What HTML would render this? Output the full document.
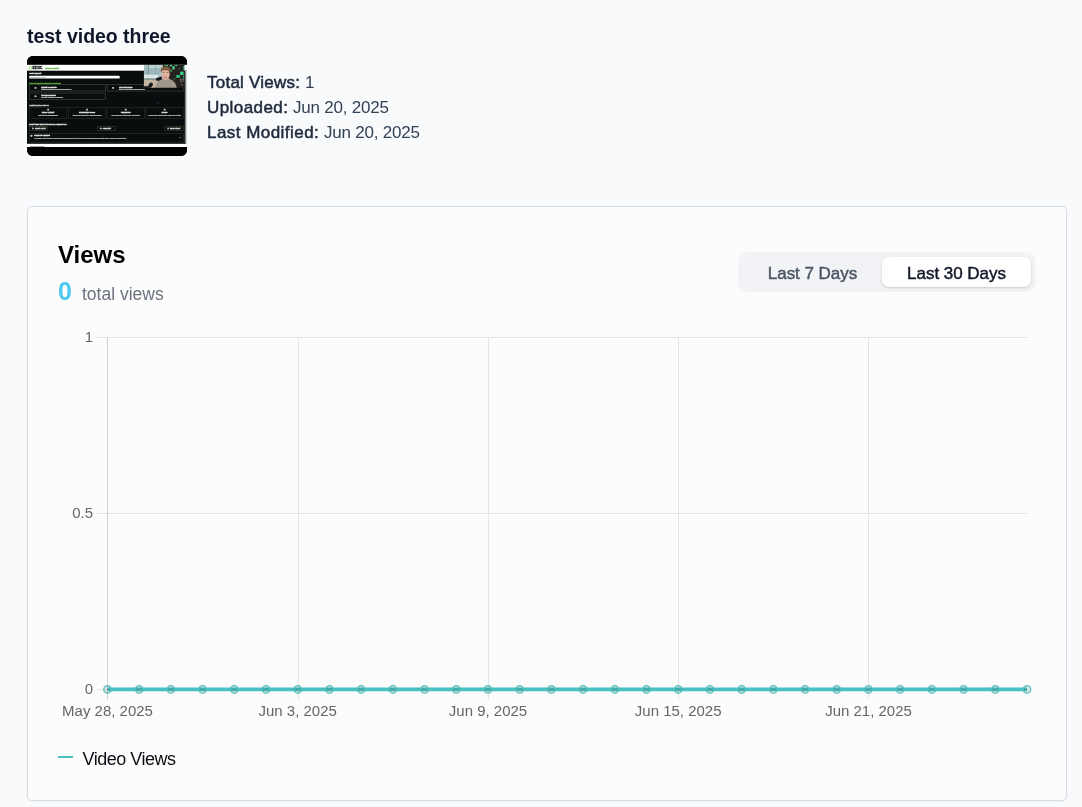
<!DOCTYPE html>
<html lang="en">
<head>
<meta charset="utf-8">
<title>test video three</title>
<style>
  html, body { margin: 0; padding: 0; }
  body {
    width: 1082px; height: 807px; overflow: hidden; position: relative;
    background: #f8fafc;
    font-family: "Liberation Sans", sans-serif;
    color: #1e293b;
  }
  .abs { position: absolute; white-space: nowrap; }
  #title {
    left: 27px; top: 24px; font-size: 19.5px; line-height: 24px; font-weight: 700;
    color: #0f172a; letter-spacing: -0.03px;
  }
  #thumb { left: 27px; top: 56px; width: 160px; height: 100px; border-radius: 6px; overflow: hidden; background: #000; }
  .stat { left: 207px; font-size: 17px; line-height: 25px; color: #334155; }
  .stat b { font-weight: 400; color: #1e293b; -webkit-text-stroke: 0.5px #1e293b; }
  .stat span { position: absolute; top: 0; letter-spacing: -0.22px; }
  #card {
    left: 27px; top: 206px; width: 1038px; height: 593px;
    border: 1px solid #d7dce4; border-radius: 5px; background: #fcfcfc;
    box-shadow: 0 1px 2px rgba(0,0,0,0.05);
  }
  #h-views { left: 58px; top: 240px; font-size: 24px; line-height: 30px; font-weight: 700; color: #000; }
  #n-views { left: 58px; top: 276px; font-size: 25px; line-height: 30px; font-weight: 700; color: #4cc9f0; }
  #t-views { left: 82px; top: 282px; font-size: 17.5px; line-height: 24px; color: #6b7280; }
  #toggle { left: 738px; top: 252px; width: 298px; height: 40px; border-radius: 10px; background: #f1f3f6; }
  #pill { left: 882px; top: 257px; width: 149px; height: 30px; border-radius: 7px; background: #fff;
    box-shadow: 0 1px 3px rgba(0,0,0,0.12), 0 1px 2px rgba(0,0,0,0.06); }
  .tbtn { top: 258px; height: 30px; line-height: 31px; font-size: 17px; font-weight: 400; text-align: center; letter-spacing: -0.03px; -webkit-text-stroke: 0.45px currentColor; }
  #b7 { left: 743px; width: 139px; color: #4b5563; }
  #b30 { left: 882px; width: 149px; color: #111827; }
  #chart { left: 0; top: 0; width: 1082px; height: 807px; }
  #thumb text { font-family: "Liberation Sans", sans-serif; }
  #chart text { font-family: "Liberation Sans", sans-serif; font-size: 15px; fill: #666; }
  #legend { left: 82.6px; top: 747px; font-size: 18px; line-height: 24px; color: #0a0d14; letter-spacing: -0.5px; }
  #legend-dash { left: 58px; top: 756px; width: 15px; height: 2px; background: #4bc0c0; }
</style>
</head>
<body>
  <div id="title" class="abs">test video three</div>

  <div id="thumb" class="abs"><!--THUMB--><svg width="160" height="100" viewBox="27 56 160 100" style="display:block"><defs><filter id="bl" color-interpolation-filters="sRGB" x="-5%" y="-5%" width="110%" height="110%"><feGaussianBlur stdDeviation="0.35"/></filter><filter id="bl2" color-interpolation-filters="sRGB" x="-10%" y="-10%" width="120%" height="120%"><feGaussianBlur stdDeviation="0.6"/></filter><clipPath id="cam"><rect x="143.9" y="64.9" width="40.6" height="22.8"/></clipPath><linearGradient id="strip" x1="0" x2="1" y1="0" y2="0"><stop offset="0" stop-color="#3a3f3f"/><stop offset="0.45" stop-color="#8f9595"/><stop offset="1" stop-color="#f2f4f4"/></linearGradient></defs><rect x="27" y="56" width="160" height="100" fill="#000"/><g filter="url(#bl)"><rect x="27" y="70.7" width="158.5" height="73.2" fill="#080d0d"/><rect x="27" y="64.8" width="160" height="5.9" fill="#fff"/><rect x="27" y="143.8" width="160" height="3.2" fill="#fff"/><text x="30" y="146.6" font-size="1.4" font-weight="400" fill="#8a8f99" stroke="#8a8f99" stroke-width="0.22" text-anchor="start">support.ezoic.com/help</text><circle cx="30.6" cy="67.9" r="1.5" fill="none" stroke="#7ac943" stroke-width="0.7"/><text x="32.4" y="69.1" font-size="3.3" font-weight="700" fill="#1c241f" stroke="#1c241f" stroke-width="0.32" text-anchor="start">EZOIC</text><text x="45" y="68.9" font-size="2.5" font-weight="700" fill="#5fb53c" stroke="#5fb53c" stroke-width="0.32" text-anchor="start">Help Center</text><text x="29.2" y="74.3" font-size="2.1" font-weight="700" fill="#dfe3e3" stroke="#dfe3e3" stroke-width="0.32" text-anchor="start">Get Support</text><rect x="29.2" y="75.7" width="90.6" height="2.9" rx="1.2" fill="#fff"/><text x="30" y="77.8" font-size="1.5" font-weight="400" fill="#b8bdbd" stroke="#b8bdbd" stroke-width="0.22" text-anchor="start">Search for help articles</text><text x="29.2" y="83.6" font-size="1.92" font-weight="700" fill="#58a832" stroke="#58a832" stroke-width="0.32" text-anchor="start">Your Dedicated Support Resources</text><rect x="29.55" y="84.65" width="76.00" height="6.40" fill="none" stroke="#474d4d" stroke-width="0.6"/><rect x="107.15" y="84.65" width="76.10" height="6.40" fill="none" stroke="#474d4d" stroke-width="0.6"/><rect x="29.55" y="93.05" width="76.00" height="6.40" fill="none" stroke="#474d4d" stroke-width="0.6"/><rect x="34.5" y="87.10000000000001" width="2" height="1.6" fill="#c8cccc"/><text x="41.3" y="87.80000000000001" font-size="2.0" font-weight="700" fill="#e3e6e6" stroke="#e3e6e6" stroke-width="0.32" text-anchor="start">Expert Contacts</text><text x="41.3" y="89.9" font-size="1.35" font-weight="400" fill="#bfc4c4" stroke="#bfc4c4" stroke-width="0.22" text-anchor="start">Connect directly with your dedicated account team</text><rect x="112.10000000000001" y="87.10000000000001" width="2" height="1.6" fill="#c8cccc"/><text x="118.9" y="87.80000000000001" font-size="2.0" font-weight="700" fill="#e3e6e6" stroke="#e3e6e6" stroke-width="0.32" text-anchor="start">Live Webinars</text><text x="118.9" y="89.9" font-size="1.35" font-weight="400" fill="#bfc4c4" stroke="#bfc4c4" stroke-width="0.22" text-anchor="start">Register for our upcoming training sessions</text><rect x="34.5" y="95.5" width="2" height="1.6" fill="#c8cccc"/><text x="41.3" y="96.2" font-size="2.0" font-weight="700" fill="#e3e6e6" stroke="#e3e6e6" stroke-width="0.32" text-anchor="start">Troubleshooter</text><text x="41.3" y="98.3" font-size="1.35" font-weight="400" fill="#bfc4c4" stroke="#bfc4c4" stroke-width="0.22" text-anchor="start">Quick self-diagnosis for page issues</text><text x="29.2" y="105.7" font-size="1.92" font-weight="700" fill="#cdd1d1" stroke="#cdd1d1" stroke-width="0.32" text-anchor="start">Additional Resources</text><rect x="29.55" y="107.35" width="37.10" height="11.10" fill="none" stroke="#2b3322" stroke-width="0.6"/><rect x="47.2" y="108.8" width="1.8" height="1.7" fill="#cdd2d2"/><text x="48.1" y="113.4" font-size="2.0" font-weight="700" fill="#e3e6e6" stroke="#e3e6e6" stroke-width="0.32" text-anchor="middle">Video Library</text><text x="48.1" y="115.7" font-size="1.35" font-weight="400" fill="#b9bebe" stroke="#b9bebe" stroke-width="0.22" text-anchor="middle">Watch tutorials and walkthroughs</text><rect x="68.35" y="107.35" width="37.30" height="11.10" fill="none" stroke="#2b3322" stroke-width="0.6"/><rect x="86.1" y="108.8" width="1.8" height="1.7" fill="#cdd2d2"/><text x="87.0" y="113.4" font-size="2.0" font-weight="700" fill="#e3e6e6" stroke="#e3e6e6" stroke-width="0.32" text-anchor="middle">Knowledge Base</text><text x="87.0" y="115.7" font-size="1.35" font-weight="400" fill="#b9bebe" stroke="#b9bebe" stroke-width="0.22" text-anchor="middle">Browse help documentation and detailed guides</text><rect x="107.15" y="107.35" width="37.20" height="11.10" fill="none" stroke="#2b3322" stroke-width="0.6"/><rect x="124.85" y="108.8" width="1.8" height="1.7" fill="#cdd2d2"/><text x="125.75" y="113.4" font-size="2.0" font-weight="700" fill="#e3e6e6" stroke="#e3e6e6" stroke-width="0.32" text-anchor="middle">Templates</text><text x="125.75" y="115.7" font-size="1.35" font-weight="400" fill="#b9bebe" stroke="#b9bebe" stroke-width="0.22" text-anchor="middle">Ready-made ad layout templates and best sites</text><rect x="146.05" y="107.35" width="37.20" height="11.10" fill="none" stroke="#2b3322" stroke-width="0.6"/><rect x="163.75" y="108.8" width="1.8" height="1.7" fill="#cdd2d2"/><text x="164.65" y="113.4" font-size="2.0" font-weight="700" fill="#e3e6e6" stroke="#e3e6e6" stroke-width="0.32" text-anchor="middle">Blogs</text><text x="164.65" y="115.7" font-size="1.35" font-weight="400" fill="#b9bebe" stroke="#b9bebe" stroke-width="0.22" text-anchor="middle">Industry news, product updates and tips from our team</text><text x="29.2" y="124.7" font-size="1.95" font-weight="700" fill="#dde1e1" stroke="#dde1e1" stroke-width="0.32" text-anchor="start">Didn't Find What You Were Looking For?</text><rect x="29.55" y="126.45" width="18.00" height="3.90" fill="none" stroke="#37452a" stroke-width="0.6"/><rect x="32.1" y="127.6" width="1.6" height="1.6" fill="#d0d5d5"/><text x="34.9" y="128.9" font-size="1.5" font-weight="700" fill="#d5d9d9" stroke="#d5d9d9" stroke-width="0.32" text-anchor="start">Submit a ticket</text><rect x="97.45" y="126.45" width="18.00" height="3.90" fill="none" stroke="#37452a" stroke-width="0.6"/><rect x="100.0" y="127.6" width="1.6" height="1.6" fill="#d0d5d5"/><text x="102.8" y="128.9" font-size="1.5" font-weight="700" fill="#d5d9d9" stroke="#d5d9d9" stroke-width="0.32" text-anchor="start">Community</text><rect x="164.75" y="126.45" width="18.50" height="3.90" fill="none" stroke="#37452a" stroke-width="0.6"/><rect x="167.3" y="127.6" width="1.6" height="1.6" fill="#d0d5d5"/><text x="170.1" y="128.9" font-size="1.5" font-weight="700" fill="#d5d9d9" stroke="#d5d9d9" stroke-width="0.32" text-anchor="start">Email Support</text><rect x="29.55" y="133.45" width="153.70" height="8.70" fill="none" stroke="#2c3636" stroke-width="0.6"/><circle cx="31.5" cy="135.8" r="1.1" fill="#d0d5d5"/><text x="34.2" y="136.3" font-size="2.0" font-weight="700" fill="#e3e6e6" stroke="#e3e6e6" stroke-width="0.32" text-anchor="start">Support Chatbot</text><text x="34.2" y="138.8" font-size="1.35" font-weight="400" fill="#b5baba" stroke="#b5baba" stroke-width="0.22" text-anchor="start">Our chatbot assistant knows the answers to most questions about our site and can walk you through setup or connect you to a person on our support team</text><rect x="179.6" y="137" width="1.2" height="0.8" fill="#9aa"/><rect x="157.6" y="102.4" width="0.9" height="1.3" fill="#556"/></g><g clip-path="url(#cam)"><g filter="url(#bl2)"><rect x="142" y="63" width="46" height="27" fill="#26221f"/><rect x="142" y="63" width="21" height="18" fill="#a8c2c3"/><rect x="149" y="63" width="12" height="5" fill="#b9d3d3"/><rect x="144" y="68" width="16" height="6" fill="#9db8ba"/><rect x="147.8" y="63" width="1.1" height="16" fill="#7f9898"/><rect x="155.2" y="66" width="0.9" height="10" fill="#8ea8a8"/><rect x="142" y="74.8" width="16" height="3.6" fill="#dbe5e6"/><rect x="142" y="78.4" width="16" height="1.6" fill="#8a9490"/><rect x="142" y="80" width="16" height="10" fill="#c4b69e"/><path d="M155.8 80.5 L156.4 78 L161.8 76.6 L162 81 Z" fill="#15151a"/><rect x="164.2" y="64.6" width="2.4" height="1.4" fill="#2c9a5a"/><rect x="166.4" y="65" width="1.6" height="1.2" fill="#45c783"/><rect x="169.6" y="64.8" width="2.4" height="1.6" fill="#49cf8a"/><rect x="172.4" y="66.2" width="2.2" height="3.2" fill="#52d994"/><rect x="175.2" y="64.8" width="2.2" height="1.3" fill="#43c680"/><rect x="170.2" y="69.6" width="2" height="2.2" fill="#2f8f58"/><rect x="180.2" y="71.6" width="3.4" height="3.4" fill="#3fd28a"/><rect x="176.2" y="75" width="3.8" height="2.8" fill="#33b873"/><rect x="183.4" y="66" width="1.4" height="4" fill="#3cc47c"/><rect x="183.2" y="75.4" width="1.4" height="3.6" fill="#2fa565"/><rect x="173.4" y="78" width="2" height="1.4" fill="#256a42"/><rect x="178" y="68" width="2" height="2" fill="#3a3430"/><rect x="180.2" y="79.2" width="3" height="2" fill="none" stroke="#8a8e8e" stroke-width="0.6"/><path d="M181.2 83.4 L182.8 85.8" stroke="#7d8282" stroke-width="0.7"/><ellipse cx="150.6" cy="85.2" rx="1.9" ry="2.8" fill="#191922" transform="rotate(40 150.6 85.2)"/><rect x="144" y="86.2" width="5.5" height="2" fill="#1c1c22"/><path d="M155 89 C155.2 84 157.6 80.8 162.2 79.2 L169.6 79 C174.2 80.6 176.4 84 176.9 89 Z" fill="#9f978b"/><path d="M162.4 79.3 C164.5 80.8 167.5 80.8 169.4 79.2 L169 78 L163 78 Z" fill="#b8a595"/><ellipse cx="165.6" cy="74.2" rx="4.1" ry="5.2" fill="#dfb29d"/><ellipse cx="165.4" cy="77.4" rx="2" ry="1.1" fill="#c98d80"/><path d="M160.9 72.6 C160 67.6 162.6 66.3 165.6 66.4 C168.8 66.3 171 67.8 170.1 72.8 C169.6 70.6 168.2 70.1 165.6 70.2 C163.2 70.1 161.6 70.6 160.9 72.6 Z" fill="#7d5c3c"/><rect x="162.6" y="72.2" width="2" height="0.8" fill="#8a6458"/><rect x="166.4" y="72.2" width="2" height="0.8" fill="#8a6458"/></g></g><rect x="184.6" y="70.7" width="2.4" height="73.2" fill="url(#strip)"/></svg><!--/THUMB--></div>

  <div class="abs stat" style="top:70px"><b style="letter-spacing:0.24px">Total Views:</b> <span style="left:98px">1</span></div>
  <div class="abs stat" style="top:95px"><b style="letter-spacing:0.42px">Uploaded:</b> <span style="left:86px">Jun 20, 2025</span></div>
  <div class="abs stat" style="top:120px"><b style="letter-spacing:0.46px">Last Modified:</b> <span style="left:117px">Jun 20, 2025</span></div>

  <div id="card" class="abs"></div>
  <div id="h-views" class="abs">Views</div>
  <div id="n-views" class="abs">0</div>
  <div id="t-views" class="abs">total views</div>

  <div id="toggle" class="abs"></div>
  <div id="pill" class="abs"></div>
  <div id="b7" class="abs tbtn">Last 7 Days</div>
  <div id="b30" class="abs tbtn">Last 30 Days</div>

  <svg id="chart" class="abs" viewBox="0 0 1082 807"><!--CHART-->
    <line x1="97" y1="337.5" x2="1027.0" y2="337.5" stroke="#e4e4e4" stroke-width="1"/>
    <line x1="97" y1="513.5" x2="1027.0" y2="513.5" stroke="#e4e4e4" stroke-width="1"/>
    <line x1="97" y1="689.5" x2="1027.0" y2="689.5" stroke="#e4e4e4" stroke-width="1"/>
    <line x1="107.5" y1="337.5" x2="107.5" y2="699.5" stroke="#cfcfcf" stroke-width="1"/>
    <line x1="298.5" y1="337.5" x2="298.5" y2="699.5" stroke="#e4e4e4" stroke-width="1"/>
    <line x1="488.5" y1="337.5" x2="488.5" y2="699.5" stroke="#e4e4e4" stroke-width="1"/>
    <line x1="678.5" y1="337.5" x2="678.5" y2="699.5" stroke="#e4e4e4" stroke-width="1"/>
    <line x1="868.5" y1="337.5" x2="868.5" y2="699.5" stroke="#e4e4e4" stroke-width="1"/>
    <line x1="107.5" y1="689.4" x2="1027.0" y2="689.4" stroke="#4bc0c0" stroke-width="3.75"/>
    <circle cx="107.50" cy="689.4" r="3.75" fill="rgba(0,0,0,0.1)" stroke="#4bc0c0" stroke-width="1.25"/>
    <circle cx="139.21" cy="689.4" r="3.75" fill="rgba(0,0,0,0.1)" stroke="#4bc0c0" stroke-width="1.25"/>
    <circle cx="170.91" cy="689.4" r="3.75" fill="rgba(0,0,0,0.1)" stroke="#4bc0c0" stroke-width="1.25"/>
    <circle cx="202.62" cy="689.4" r="3.75" fill="rgba(0,0,0,0.1)" stroke="#4bc0c0" stroke-width="1.25"/>
    <circle cx="234.33" cy="689.4" r="3.75" fill="rgba(0,0,0,0.1)" stroke="#4bc0c0" stroke-width="1.25"/>
    <circle cx="266.03" cy="689.4" r="3.75" fill="rgba(0,0,0,0.1)" stroke="#4bc0c0" stroke-width="1.25"/>
    <circle cx="297.74" cy="689.4" r="3.75" fill="rgba(0,0,0,0.1)" stroke="#4bc0c0" stroke-width="1.25"/>
    <circle cx="329.45" cy="689.4" r="3.75" fill="rgba(0,0,0,0.1)" stroke="#4bc0c0" stroke-width="1.25"/>
    <circle cx="361.16" cy="689.4" r="3.75" fill="rgba(0,0,0,0.1)" stroke="#4bc0c0" stroke-width="1.25"/>
    <circle cx="392.86" cy="689.4" r="3.75" fill="rgba(0,0,0,0.1)" stroke="#4bc0c0" stroke-width="1.25"/>
    <circle cx="424.57" cy="689.4" r="3.75" fill="rgba(0,0,0,0.1)" stroke="#4bc0c0" stroke-width="1.25"/>
    <circle cx="456.28" cy="689.4" r="3.75" fill="rgba(0,0,0,0.1)" stroke="#4bc0c0" stroke-width="1.25"/>
    <circle cx="487.98" cy="689.4" r="3.75" fill="rgba(0,0,0,0.1)" stroke="#4bc0c0" stroke-width="1.25"/>
    <circle cx="519.69" cy="689.4" r="3.75" fill="rgba(0,0,0,0.1)" stroke="#4bc0c0" stroke-width="1.25"/>
    <circle cx="551.40" cy="689.4" r="3.75" fill="rgba(0,0,0,0.1)" stroke="#4bc0c0" stroke-width="1.25"/>
    <circle cx="583.10" cy="689.4" r="3.75" fill="rgba(0,0,0,0.1)" stroke="#4bc0c0" stroke-width="1.25"/>
    <circle cx="614.81" cy="689.4" r="3.75" fill="rgba(0,0,0,0.1)" stroke="#4bc0c0" stroke-width="1.25"/>
    <circle cx="646.52" cy="689.4" r="3.75" fill="rgba(0,0,0,0.1)" stroke="#4bc0c0" stroke-width="1.25"/>
    <circle cx="678.22" cy="689.4" r="3.75" fill="rgba(0,0,0,0.1)" stroke="#4bc0c0" stroke-width="1.25"/>
    <circle cx="709.93" cy="689.4" r="3.75" fill="rgba(0,0,0,0.1)" stroke="#4bc0c0" stroke-width="1.25"/>
    <circle cx="741.64" cy="689.4" r="3.75" fill="rgba(0,0,0,0.1)" stroke="#4bc0c0" stroke-width="1.25"/>
    <circle cx="773.34" cy="689.4" r="3.75" fill="rgba(0,0,0,0.1)" stroke="#4bc0c0" stroke-width="1.25"/>
    <circle cx="805.05" cy="689.4" r="3.75" fill="rgba(0,0,0,0.1)" stroke="#4bc0c0" stroke-width="1.25"/>
    <circle cx="836.76" cy="689.4" r="3.75" fill="rgba(0,0,0,0.1)" stroke="#4bc0c0" stroke-width="1.25"/>
    <circle cx="868.47" cy="689.4" r="3.75" fill="rgba(0,0,0,0.1)" stroke="#4bc0c0" stroke-width="1.25"/>
    <circle cx="900.17" cy="689.4" r="3.75" fill="rgba(0,0,0,0.1)" stroke="#4bc0c0" stroke-width="1.25"/>
    <circle cx="931.88" cy="689.4" r="3.75" fill="rgba(0,0,0,0.1)" stroke="#4bc0c0" stroke-width="1.25"/>
    <circle cx="963.59" cy="689.4" r="3.75" fill="rgba(0,0,0,0.1)" stroke="#4bc0c0" stroke-width="1.25"/>
    <circle cx="995.29" cy="689.4" r="3.75" fill="rgba(0,0,0,0.1)" stroke="#4bc0c0" stroke-width="1.25"/>
    <circle cx="1027.00" cy="689.4" r="3.75" fill="rgba(0,0,0,0.1)" stroke="#4bc0c0" stroke-width="1.25"/>
    <text x="93" y="341.8" text-anchor="end">1</text>
    <text x="93" y="517.8" text-anchor="end">0.5</text>
    <text x="93" y="693.8" text-anchor="end">0</text>
    <text x="107.5" y="716" text-anchor="middle">May 28, 2025</text>
    <text x="297.7" y="716" text-anchor="middle">Jun 3, 2025</text>
    <text x="488.0" y="716" text-anchor="middle">Jun 9, 2025</text>
    <text x="678.2" y="716" text-anchor="middle">Jun 15, 2025</text>
    <text x="868.5" y="716" text-anchor="middle">Jun 21, 2025</text>
  <!--/CHART--></svg>

  <div id="legend-dash" class="abs"></div>
  <div id="legend" class="abs">Video Views</div>
</body>
</html>
